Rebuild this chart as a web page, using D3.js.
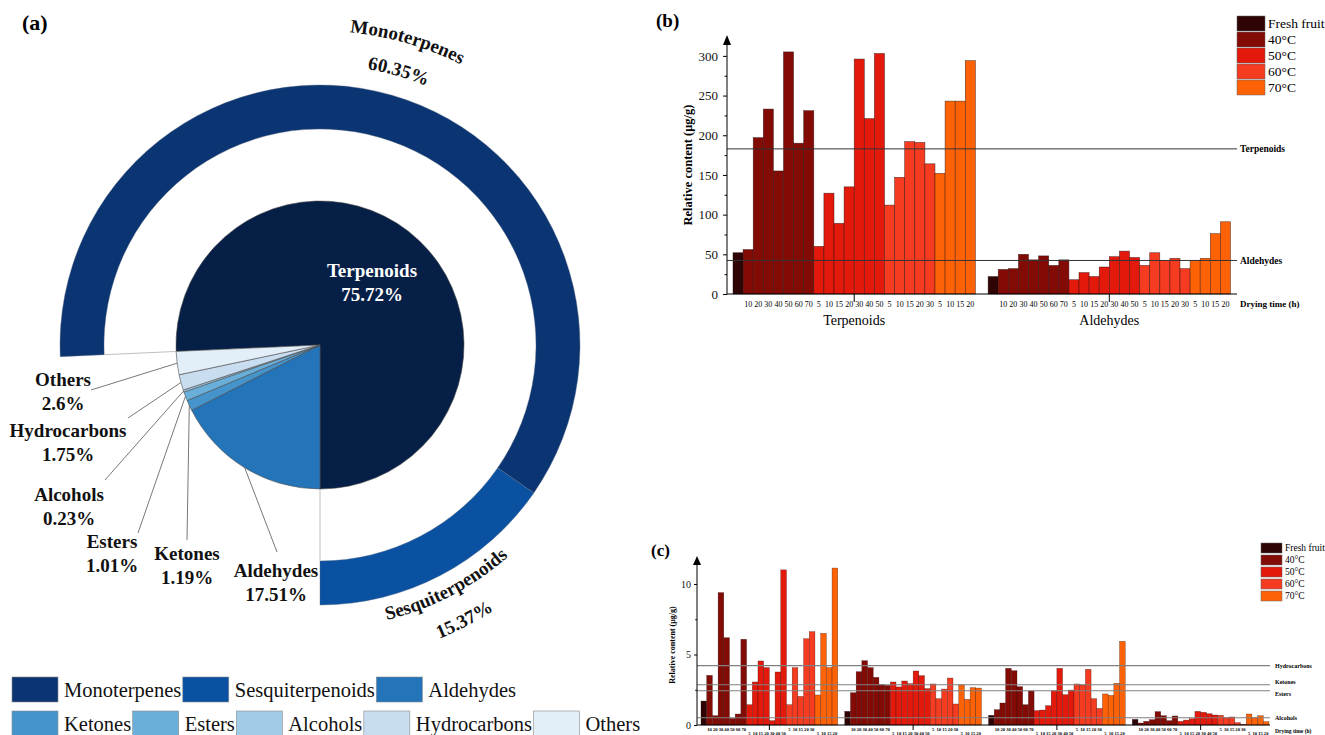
<!DOCTYPE html>
<html>
<head>
<meta charset="utf-8">
<script src="https://cdn.jsdelivr.net/npm/d3@7"></script>
<style>
  body { margin: 0; background: #fff; }
  svg, svg text { font-family: "Liberation Serif", "Times New Roman", serif; }
  svg { display: block; }
</style>
</head>
<body>
<div id="chart"></div>
<script>
// ---------- data: panel (a) ----------
const pieCategories = ["Terpenoids", "Aldehydes", "Ketones", "Esters", "Alcohols", "Hydrocarbons", "Others"];
const pieValues = [75.72, 17.51, 1.19, 1.01, 0.23, 1.75, 2.6];
const ringCategories = ["Monoterpenes", "Sesquiterpenoids"];
const ringValues = [60.35, 15.37];
const legendCategories = ["Monoterpenes", "Sesquiterpenoids", "Aldehydes", "Ketones", "Esters", "Alcohols", "Hydrocarbons", "Others"];

// ---------- data: panels (b) and (c) ----------
const treatmentNames = ["Fresh fruit", "40°C", "50°C", "60°C", "70°C"];
const treatmentTimes = [[""], [10, 20, 30, 40, 50, 60, 70], [5, 10, 15, 20, 30, 40, 50], [5, 10, 15, 20, 30], [5, 10, 15, 20]];

const groupsB = ["Terpenoids", "Aldehydes"];
const terpenoidValues = [52, 56, 197, 233, 155, 305, 190, 231, 60, 127, 89, 135, 296, 221, 303, 112, 147, 192, 191, 164, 152, 243, 243, 294];
const aldehydeValues = [22, 31, 32, 50, 43, 48, 36, 43, 18, 27, 22, 34, 47, 54, 46, 36, 52, 42, 45, 32, 42, 45, 76, 91];

const groupsC = ["Hydrocarbons", "Ketones", "Esters", "Alcohols"];
const hydrocarbonValues = [1.70, 3.52, 0.66, 9.39, 6.19, 0.47, 0.78, 6.08, 1.44, 3.05, 4.54, 4.07, 0.31, 3.76, 11.0, 1.44, 4.07, 2.03, 6.12, 6.62, 2.13, 6.50, 4.07, 11.13];
const ketoneValues = [0.97, 2.29, 3.78, 4.56, 4.07, 3.38, 2.86, 2.81, 3.05, 2.70, 3.12, 2.93, 3.83, 3.50, 2.58, 2.91, 1.87, 2.55, 3.33, 1.49, 2.84, 1.82, 2.65, 2.62];
const esterValues = [0.69, 1.09, 1.56, 4.02, 3.85, 2.72, 1.44, 2.41, 1.02, 1.06, 1.37, 2.43, 4.02, 2.15, 2.48, 2.91, 2.84, 3.95, 1.87, 1.18, 2.20, 2.10, 2.96, 5.93];
const alcoholValues = [0.40, 0.14, 0.26, 0.38, 0.95, 0.66, 0.31, 0.64, 0.26, 0.35, 0.45, 0.97, 0.90, 0.80, 0.71, 0.69, 0.52, 0.57, 0.17, 0.05, 0.78, 0.52, 0.66, 0.24];

// ---------- colours ----------
const pieColours = ["#061f47", "#2474b9", "#4594cc", "#6aafd9", "#a2cce6", "#c9ddf1", "#e2eef8"];
const ringColours = ["#0b3472", "#0a52a1"];
const treatmentColours = ["#2e0404", "#820b06", "#e2190b", "#f53b20", "#fd6207"];

const colourOf = (name) => {
  const r = ringCategories.indexOf(name);
  if (r >= 0) return ringColours[r];
  return pieColours[pieCategories.indexOf(name)];
};

const svg = d3.select("#chart").append("svg")
  .attr("width", 1325)
  .attr("height", 735)
  .attr("font-family", "Liberation Serif, Times New Roman, serif");

// =====================================================================
// Panel (a): pie of compound classes with terpenoid breakdown ring
// =====================================================================
function drawPie() {
  const cx = 320, cy = 345;
  const rPie = 144, rRingIn = 216, rRingOut = 260;
  const labelFont = 19;

  // label offsets relative to the pie centre (text centre / leader end)
  const labelLayout = {
    Terpenoids:   { dx: 52, dy: -75 },
    Aldehydes:    { dx: -44, dy: 225, lx: -43, ly: 207 },
    Ketones:      { dx: -133, dy: 208, lx: -133, ly: 195 },
    Esters:       { dx: -208, dy: 196, lx: -182, ly: 188 },
    Alcohols:     { dx: -251, dy: 149, lx: -215, ly: 135 },
    Hydrocarbons: { dx: -252, dy: 85, lx: -192, ly: 73 },
    Others:       { dx: -257, dy: 34, lx: -229, ly: 45 }
  };

  const g = svg.append("g").attr("transform", `translate(${cx},${cy})`);
  const polar = (a, r) => [r * Math.sin(a), -r * Math.cos(a)];

  // terpenoids end at the bottom of the pie, the rest follow clockwise
  const start = Math.PI - (pieValues[0] / d3.sum(pieValues)) * 2 * Math.PI;
  const pie = d3.pie().sort(null).startAngle(start).endAngle(start + 2 * Math.PI);
  const arcs = pie(pieValues);
  const arc = d3.arc().innerRadius(0).outerRadius(rPie);

  g.selectAll(".slice")
    .data(arcs)
    .join("path")
    .attr("class", "slice")
    .attr("d", arc)
    .attr("fill", (d, i) => pieColours[i])
    .attr("stroke", "#4a4a4a")
    .attr("stroke-width", 0.6);

  // outer ring only over the terpenoid angle
  const ringPie = d3.pie().sort(null).startAngle(start).endAngle(Math.PI);
  const ringArcs = ringPie(ringValues);
  const ringArc = d3.arc().innerRadius(rRingIn).outerRadius(rRingOut);

  g.selectAll(".ring")
    .data(ringArcs)
    .join("path")
    .attr("class", "ring")
    .attr("d", ringArc)
    .attr("fill", (d, i) => ringColours[i])
    .attr("stroke", "#5a6a80")
    .attr("stroke-width", 0.4);

  // thin radial lines linking the ring ends to the pie
  [start, Math.PI].forEach((a) => {
    const p0 = polar(a, rPie), p1 = polar(a, rRingIn);
    g.append("line")
      .attr("x1", p0[0]).attr("y1", p0[1])
      .attr("x2", p1[0]).attr("y2", p1[1])
      .attr("stroke", "#b0b0b0")
      .attr("stroke-width", 0.8);
  });

  // leader lines and labels
  arcs.forEach((d, i) => {
    const name = pieCategories[i];
    const lay = labelLayout[name];
    if (lay.lx !== undefined) {
      const mid = (d.startAngle + d.endAngle) / 2;
      const p = polar(mid, rPie);
      g.append("line")
        .attr("x1", p[0]).attr("y1", p[1])
        .attr("x2", lay.lx).attr("y2", lay.ly)
        .attr("stroke", "#555")
        .attr("stroke-width", 0.8);
    }
    const fill = i === 0 ? "#fff" : "#111";
    [name, `${pieValues[i]}%`].forEach((txt, k) => {
      g.append("text")
        .attr("x", lay.dx)
        .attr("y", lay.dy + k * 24)
        .attr("dy", "0.35em")
        .attr("text-anchor", "middle")
        .attr("font-size", labelFont)
        .attr("font-weight", "bold")
        .attr("fill", fill)
        .text(txt);
    });
  });

  // curved ring labels placed on the centre angle of each ring segment
  ringArcs.forEach((d, i) => {
    const mid = (d.startAngle + d.endAngle) / 2;
    const bottom = Math.cos(mid) < 0;
    const radii = bottom ? [283, 317] : [314, 280];
    [ringCategories[i], `${ringValues[i]}%`].forEach((txt, k) => {
      const r = radii[k];
      const a0 = bottom ? mid + 1 : mid - 1;
      const a1 = bottom ? mid - 1 : mid + 1;
      const p0 = polar(a0, r), p1 = polar(a1, r);
      const id = `ringpath-${i}-${k}`;
      g.append("path")
        .attr("id", id)
        .attr("fill", "none")
        .attr("d", `M${p0[0]},${p0[1]} A${r},${r} 0 0 ${bottom ? 0 : 1} ${p1[0]},${p1[1]}`);
      g.append("text")
        .attr("font-size", labelFont)
        .attr("font-weight", "bold")
        .attr("fill", "#111")
        .append("textPath")
        .attr("href", `#${id}`)
        .attr("startOffset", "50%")
        .attr("text-anchor", "middle")
        .text(txt);
    });
  });

  // legend, two rows laid out one after another
  const legendRows = [legendCategories.slice(0, 3), legendCategories.slice(3)];
  const rowTop = [677, 711];
  const lg = svg.append("g").attr("font-size", 20.5);
  legendRows.forEach((row, r) => {
    let x = 12;
    row.forEach((name) => {
      lg.append("rect")
        .attr("x", x).attr("y", rowTop[r])
        .attr("width", 46).attr("height", 25)
        .attr("fill", colourOf(name))
        .attr("stroke", "#8a8a8a")
        .attr("stroke-width", 0.6);
      const t = lg.append("text")
        .attr("x", x + 52)
        .attr("y", rowTop[r] + 20)
        .attr("fill", "#111")
        .text(name);
      x += 52 + t.node().getComputedTextLength() + 1.5;
    });
  });

  svg.append("text")
    .attr("x", 22).attr("y", 30)
    .attr("font-size", 22)
    .attr("font-weight", "bold")
    .text("(a)");
}

// =====================================================================
// Panels (b), (c): grouped bars per drying treatment
// =====================================================================
class DryingBarChart {
  constructor(_config, _groups, _values) {
    this.config = _config;
    this.groups = _groups;
    this.values = _values;
    this.initVis();
  }

  initVis() {
    let vis = this;
    const c = vis.config;

    vis.g = svg.append("g");
    vis.barsPerGroup = d3.sum(treatmentTimes, (t) => t.length);
    vis.totalSlots = vis.groups.length * vis.barsPerGroup + (vis.groups.length - 1) * c.gapSlots;

    vis.xScale = d3.scaleLinear().domain([0, vis.totalSlots]).range([c.barLeft, c.barRight]);
    vis.yScale = d3.scaleLinear().domain(c.yDomain).range([c.yBottom, c.yTop]);

    // one record per bar
    vis.bars = [];
    vis.groups.forEach((name, gi) => {
      let i = 0;
      treatmentTimes.forEach((times, ti) => {
        times.forEach((time) => {
          vis.bars.push({
            group: gi, treatment: ti, time: time,
            value: vis.values[gi][i],
            slot: gi * (vis.barsPerGroup + c.gapSlots) + i
          });
          i++;
        });
      });
    });

    vis.renderVis();
  }

  renderVis() {
    let vis = this;
    const c = vis.config;
    const x = vis.xScale, y = vis.yScale;

    vis.g.selectAll(".bar")
      .data(vis.bars)
      .join("rect")
      .attr("class", "bar")
      .attr("x", (d) => x(d.slot))
      .attr("width", (d) => x(d.slot + 1) - x(d.slot))
      .attr("y", (d) => y(d.value))
      .attr("height", (d) => y(0) - y(d.value))
      .attr("fill", (d) => treatmentColours[d.treatment])
      .attr("stroke", "#2a1010")
      .attr("stroke-opacity", 0.7)
      .attr("stroke-width", c.barStroke);

    // group mean reference lines
    vis.groups.forEach((name, gi) => {
      const yy = y(d3.mean(vis.values[gi]));
      vis.g.append("line")
        .attr("x1", c.axisX).attr("x2", c.lineEnd)
        .attr("y1", yy).attr("y2", yy)
        .attr("stroke", c.lineColour)
        .attr("stroke-width", c.lineWidth);
      vis.g.append("text")
        .attr("x", c.lineEnd + c.lineLabelGap)
        .attr("y", yy + (c.lineLabelShift ? c.lineLabelShift[gi] : 0))
        .attr("dy", "0.35em")
        .attr("font-size", c.smallFont)
        .attr("font-weight", "bold")
        .text(name);
    });

    // y axis with minor ticks and arrow head
    const yAxis = d3.axisLeft(y)
      .tickValues(c.yTicks)
      .tickSize(c.tickSize)
      .tickPadding(c.tickPadding)
      .tickSizeOuter(0);
    const ya = vis.g.append("g")
      .attr("transform", `translate(${c.axisX},0)`)
      .call(yAxis)
      .attr("font-family", null);
    ya.select(".domain").remove();
    ya.selectAll("text").attr("font-size", c.yFont).attr("fill", "#111");

    vis.g.append("g")
      .attr("transform", `translate(${c.axisX},0)`)
      .call(d3.axisLeft(y).tickValues(c.yMinor).tickSize(c.tickSize * 0.6).tickFormat(""))
      .select(".domain").remove();

    vis.g.append("line")
      .attr("x1", c.axisX).attr("x2", c.axisX)
      .attr("y1", y(0)).attr("y2", c.arrowTip + 4)
      .attr("stroke", "#000");
    vis.g.append("path")
      .attr("d", `M${c.axisX},${c.arrowTip} l4,${c.arrowLen} l-8,0 Z`)
      .attr("fill", "#000");

    vis.g.append("line")
      .attr("x1", c.axisX).attr("x2", c.lineEnd)
      .attr("y1", y(0)).attr("y2", y(0))
      .attr("stroke", "#000");

    // drying time labels under the bars
    vis.g.selectAll(".time")
      .data(vis.bars.filter((d) => d.time !== ""))
      .join("text")
      .attr("class", "time")
      .attr("x", (d) => x(d.slot + 0.5))
      .attr("y", (d) => y(0) + (c.stagger && d.treatment % 2 === 0 ? c.timeY2 : c.timeY))
      .attr("dy", "0.35em")
      .attr("text-anchor", "middle")
      .attr("font-size", c.timeFont)
      .attr("font-weight", c.timeWeight)
      .text((d) => d.time);

    // group ticks and (where they fit on the page) names
    vis.groups.forEach((name, gi) => {
      const gx = x(gi * (vis.barsPerGroup + c.gapSlots) + vis.barsPerGroup / 2);
      vis.g.append("line")
        .attr("x1", gx).attr("x2", gx)
        .attr("y1", y(0)).attr("y2", y(0) + c.groupTick)
        .attr("stroke", "#000");
      if (c.groupNameY) {
        vis.g.append("text")
          .attr("x", gx)
          .attr("y", y(0) + c.groupNameY)
          .attr("dy", "0.35em")
          .attr("text-anchor", "middle")
          .attr("font-size", c.groupFont)
          .text(name);
      }
    });

    vis.g.append("text")
      .attr("x", c.lineEnd + c.lineLabelGap)
      .attr("y", y(0) + c.dryingY)
      .attr("dy", "0.35em")
      .attr("font-size", c.dryingFont)
      .attr("font-weight", "bold")
      .text("Drying time (h)");

    // y axis title
    vis.g.append("text")
      .attr("transform", `translate(${c.yTitleX},${c.yTitleY}) rotate(-90)`)
      .attr("text-anchor", "middle")
      .attr("dy", "0.35em")
      .attr("font-size", c.yTitleFont)
      .attr("font-weight", "bold")
      .text("Relative content (μg/g)");

    // legend
    const lg = vis.g.append("g");
    treatmentNames.forEach((name, i) => {
      const top = c.legendY + i * c.legendStep;
      lg.append("rect")
        .attr("x", c.legendX).attr("y", top)
        .attr("width", c.swatchW).attr("height", c.swatchH)
        .attr("fill", treatmentColours[i])
        .attr("stroke", "#666")
        .attr("stroke-width", 0.5);
      lg.append("text")
        .attr("x", c.legendX + c.swatchW + 3)
        .attr("y", top + c.swatchH / 2)
        .attr("dy", "0.35em")
        .attr("font-size", c.legendFont)
        .text(name);
    });

    vis.g.append("text")
      .attr("x", c.panelX).attr("y", c.panelY)
      .attr("font-size", c.panelFont)
      .attr("font-weight", "bold")
      .text(c.panel);
  }
}

drawPie();

new DryingBarChart({
  panel: "(b)", panelX: 656, panelY: 27, panelFont: 19,
  axisX: 727, barLeft: 733, barRight: 1230.5, gapSlots: 1.26, lineEnd: 1237,
  yDomain: [0, 320], yBottom: 294, yTop: 40,
  yTicks: d3.range(0, 301, 50), yMinor: d3.range(25, 301, 50),
  tickSize: 4, tickPadding: 5, yFont: 13,
  arrowTip: 35, arrowLen: 10,
  barStroke: 0.6, lineColour: "#333", lineWidth: 1,
  smallFont: 9.5, lineLabelGap: 3,
  timeY: 10, timeFont: 8, timeWeight: "normal",
  groupTick: 8, groupNameY: 26, groupFont: 14,
  dryingY: 10, dryingFont: 9,
  yTitleX: 688, yTitleY: 165, yTitleFont: 12.5,
  legendX: 1237, legendY: 16, legendStep: 16, swatchW: 28, swatchH: 15, legendFont: 13.5
}, groupsB, [terpenoidValues, aldehydeValues]);

new DryingBarChart({
  panel: "(c)", panelX: 651, panelY: 556, panelFont: 17,
  axisX: 697, barLeft: 701, barRight: 1269, gapSlots: 1.23, lineEnd: 1270,
  yDomain: [0, 11.7], yBottom: 725, yTop: 560,
  yTicks: [0, 5, 10], yMinor: [2.5, 7.5],
  tickSize: 3, tickPadding: 3, yFont: 10,
  arrowTip: 556, arrowLen: 9,
  barStroke: 0.4, lineColour: "#808080", lineWidth: 1.2,
  smallFont: 6, lineLabelGap: 5, lineLabelShift: [0, -2.5, 3.3, 0],
  stagger: true, timeY: 4, timeY2: 8.2, timeFont: 4.6, timeWeight: "bold",
  groupTick: 5, groupNameY: null, groupFont: 9,
  dryingY: 6, dryingFont: 5.5,
  yTitleX: 672, yTitleY: 645, yTitleFont: 8,
  legendX: 1261, legendY: 543, legendStep: 12, swatchW: 21, swatchH: 10, legendFont: 9.5
}, groupsC, [hydrocarbonValues, ketoneValues, esterValues, alcoholValues]);
</script>
</body>
</html>
